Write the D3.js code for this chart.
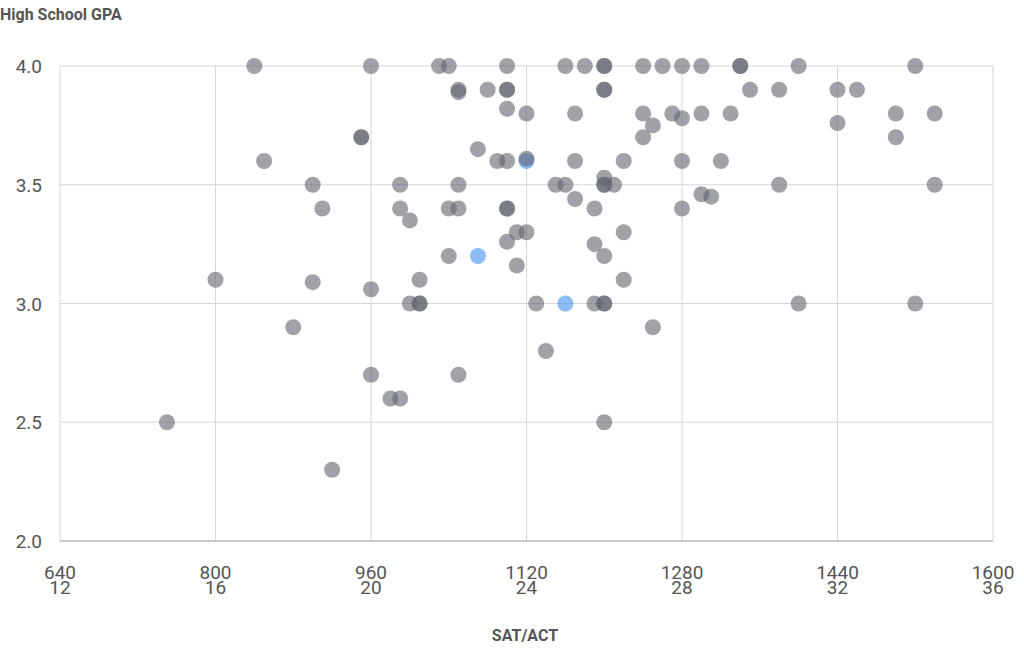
<!DOCTYPE html>
<html><head><meta charset="utf-8">
<script src="https://cdn.jsdelivr.net/npm/d3@7"></script>
<style>body{margin:0;background:#fff;font-family:Roboto,sans-serif}</style>
</head><body><div id="chart"></div>
<script>
// SAT score, GPA; the first three points are the highlighted (blue) ones
const sat = [1070,1160,1120,
  840,960,1030,1040,1100,1160,1180,1200,1200,1240,1260,1280,1300,1340,1340,1400,1520,
  1050,1050,1080,1100,1100,1200,1200,1350,1380,1440,1460,
  1100,1120,1170,1240,1270,1280,1300,1330,1500,1540,1440,1250,
  950,950,1240,1500,1070,
  850,1090,1100,1120,1170,1220,1280,1320,1200,
  900,990,1050,1150,1160,1200,1200,1210,1380,1540,1300,1310,1170,
  910,990,1040,1050,1100,1100,1190,1280,1000,
  1110,1120,1220,1100,1190,1040,1200,1110,
  800,1010,1220,900,960,
  1000,1010,1010,1130,1190,1200,1200,1400,1520,
  880,1250,1140,960,1050,980,990,750,1200,920];
const gpa = [3.2,3.0,3.6,
  4.0,4.0,4.0,4.0,4.0,4.0,4.0,4.0,4.0,4.0,4.0,4.0,4.0,4.0,4.0,4.0,4.0,
  3.9,3.89,3.9,3.9,3.9,3.9,3.9,3.9,3.9,3.9,3.9,
  3.82,3.8,3.8,3.8,3.8,3.78,3.8,3.8,3.8,3.8,3.76,3.75,
  3.7,3.7,3.7,3.7,3.65,
  3.6,3.6,3.6,3.61,3.6,3.6,3.6,3.6,3.53,
  3.5,3.5,3.5,3.5,3.5,3.5,3.5,3.5,3.5,3.5,3.46,3.45,3.44,
  3.4,3.4,3.4,3.4,3.4,3.4,3.4,3.4,3.35,
  3.3,3.3,3.3,3.26,3.25,3.2,3.2,3.16,
  3.1,3.1,3.1,3.09,3.06,
  3.0,3.0,3.0,3.0,3.0,3.0,3.0,3.0,3.0,
  2.9,2.9,2.8,2.7,2.7,2.6,2.6,2.5,2.5,2.3];
const blue = sat.map((d, i) => i < 3);
const satTicks = [640,800,960,1120,1280,1440,1600];
const actTicks = [12,16,20,24,28,32,36];
const gpaTicks = [2.0,2.5,3.0,3.5,4.0];

const W = 1024, H = 661;
const svg = d3.select("#chart").append("svg").attr("width", W).attr("height", H);
const x = d3.scaleLinear().domain([640,1600]).range([60,993]);
const y = d3.scaleLinear().domain([2,4]).range([541,66]);

svg.append("g").selectAll("line").data(satTicks).join("line")
  .attr("x1", d => x(d)).attr("x2", d => x(d)).attr("y1", 66).attr("y2", 541)
  .attr("stroke", "#d5d6da");
svg.append("g").selectAll("line").data(gpaTicks).join("line")
  .attr("x1", 60).attr("x2", 993).attr("y1", d => y(d)).attr("y2", d => y(d))
  .attr("stroke", d => d === 2 ? "#999" : "#d5d6da");

svg.append("g").selectAll("text").data(gpaTicks).join("text")
  .attr("x", 42).attr("y", d => y(d) + 7).attr("text-anchor", "end")
  .attr("font-size", 19).attr("fill", "#555").text(d => d.toFixed(1));
svg.append("g").selectAll("text").data(satTicks).join("text")
  .attr("x", d => x(d)).attr("y", 579).attr("text-anchor", "middle")
  .attr("font-size", 19).attr("fill", "#555").text(d => d);
svg.append("g").selectAll("text").data(actTicks).join("text")
  .attr("x", (d, i) => x(satTicks[i])).attr("y", 594).attr("text-anchor", "middle")
  .attr("font-size", 19).attr("fill", "#555").text(d => d);

svg.append("g").selectAll("circle").data(sat).join("circle")
  .attr("cx", d => x(d)).attr("cy", (d, i) => y(gpa[i])).attr("r", 8)
  .attr("fill", (d, i) => blue[i] ? "#5aa0ee" : "#62646e")
  .attr("fill-opacity", (d, i) => blue[i] ? 0.7 : 0.6);

svg.append("text").attr("x", 0).attr("y", 20).attr("font-size", 16)
  .attr("font-weight", "bold").attr("fill", "#555").text("High School GPA");
svg.append("text").attr("x", 525).attr("y", 641).attr("text-anchor", "middle")
  .attr("font-size", 16).attr("font-weight", "bold").attr("fill", "#555").text("SAT/ACT");
</script></body></html>
